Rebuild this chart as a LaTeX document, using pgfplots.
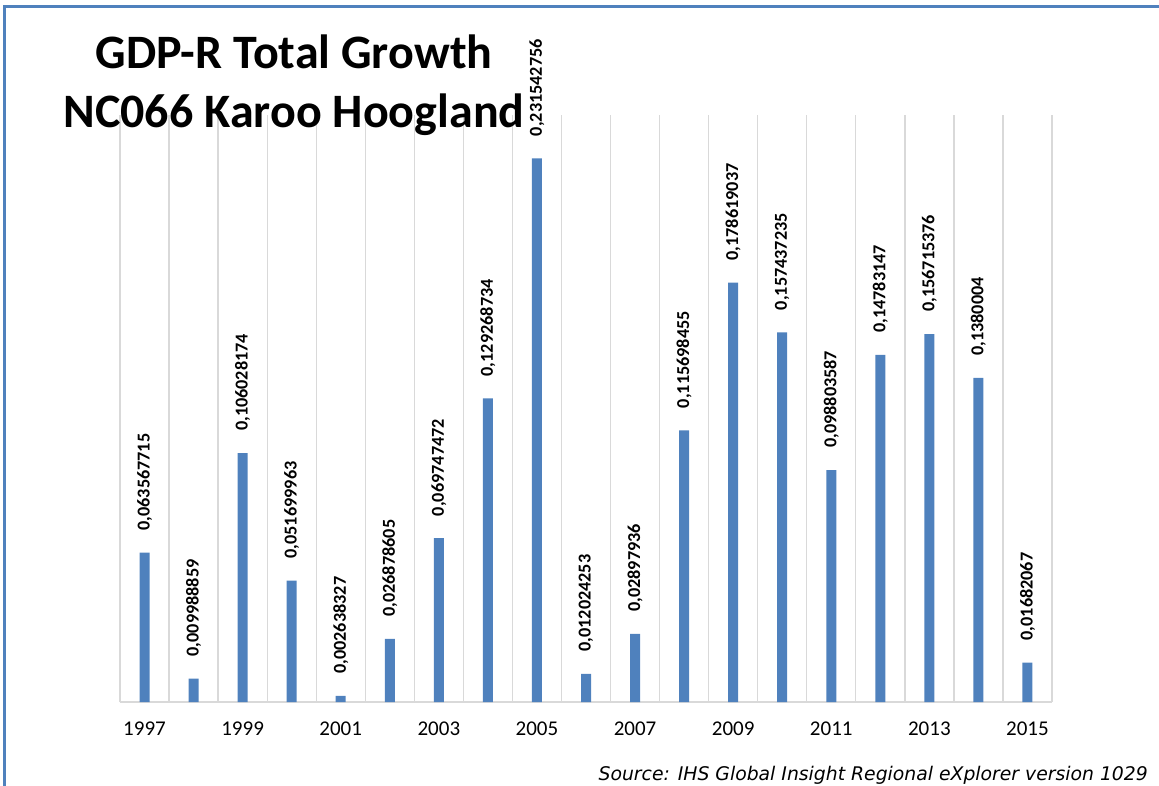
\documentclass[border=0pt]{standalone}
\usepackage{fontspec}
\setmainfont{Carlito}
\newfontfamily\srcfont{DejaVu Sans}
\usepackage{pgfplots}
\pgfplotsset{compat=1.18}
\usepackage{pgfplotstable}
\definecolor{barblue}{HTML}{4F81BD}
\definecolor{gridgray}{HTML}{D9D9D9}

\pgfplotstableread{
x y lab
0 0.063567715 0,063567715
1 0.009988859 0,009988859
2 0.106028174 0,106028174
3 0.051699963 0,051699963
4 0.002638327 0,002638327
5 0.026878605 0,026878605
6 0.069747472 0,069747472
7 0.129268734 0,129268734
8 0.231542756 0,231542756
9 0.012024253 0,012024253
10 0.02897936 0,02897936
11 0.115698455 0,115698455
12 0.178619037 0,178619037
13 0.157437235 0,157437235
14 0.098803587 0,098803587
15 0.14783147 0,14783147
16 0.156715376 0,156715376
17 0.1380004 0,1380004
18 0.01682067 0,01682067
}\data

\begin{document}
\begin{tikzpicture}[x=1pt,y=1pt]
\useasboundingbox (0,0) rectangle (1159,785);
\begin{scope}
\clip (0,0) rectangle (1159,785);
\draw[barblue, line width=3pt] (4,-5) -- (4,778.5) -- (1165,778.5);
\end{scope}
\node[font=\srcfont\itshape\fontsize{18.8}{20}\selectfont, anchor=base east, inner sep=0pt] at (1148,5) {Source: IHS Global Insight Regional eXplorer version 1029};
\begin{axis}[
  at={(120pt,83pt)}, anchor=south west,
  scale only axis, width=932pt, height=587pt,
  xmin=-0.5, xmax=18.5, ymin=0, ymax=0.25,
  clip=false,
  axis y line=none,
  axis x line*=bottom,
  x axis line style={gridgray, line width=1.3pt, -},
  xtick={0,2,...,18},
  xticklabels={1997,1999,2001,2003,2005,2007,2009,2011,2013,2015},
  minor xtick={-0.5,0.5,...,18.5},
  xminorgrids,
  minor grid style={gridgray, line width=1.3pt},
  major tick length=0pt, minor tick length=0pt,
  xticklabel style={font=\fontsize{21}{24}\selectfont, inner sep=0pt, anchor=north, yshift=-20pt},
  ybar, bar width=10pt,
  nodes near coords={\textbf{\pgfplotspointmeta}},
  point meta=explicit symbolic,
  nodes near coords align=horizontal,
  every node near coord/.append style={rotate=90, anchor=west, inner xsep=22pt, inner ysep=0pt, font=\bfseries\fontsize{18.2}{20}\selectfont, text=black},
]
\addplot[fill=barblue, draw=none] table[x=x, y=y, meta=lab] {\data};
\end{axis}
\node[font=\bfseries\fontsize{48}{52}\selectfont, anchor=base, inner sep=0pt] at (294,716) {GDP-R Total Growth};
\node[font=\bfseries\fontsize{48}{52}\selectfont, anchor=base, inner sep=0pt] at (294,657) {NC066 Karoo Hoogland};
\end{tikzpicture}
\end{document}
